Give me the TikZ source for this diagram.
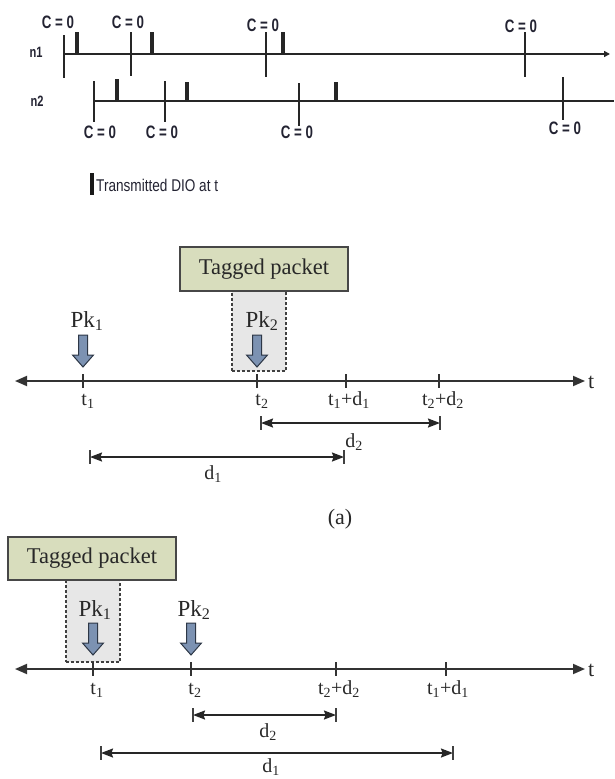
\documentclass[tikz,border=0pt]{standalone}
\usepackage{fontspec}
\usepackage{graphicx}
\setmainfont{Liberation Serif}
\setsansfont{Liberation Sans}
\usetikzlibrary{arrows.meta}
\definecolor{tagfill}{RGB}{216,221,189}
\definecolor{dashfill}{RGB}{231,231,231}
\definecolor{blkfill}{RGB}{124,146,178}
\definecolor{blkdraw}{RGB}{45,55,70}
\definecolor{txtc}{RGB}{40,40,40}
\definecolor{toptxt}{RGB}{35,35,50}
\newcommand{\cnd}[1]{\scalebox{0.74}[1]{#1}}
\newcommand{\sbt}[1]{\textsubscript{#1}}
\newcommand{\czero}{\cnd{C = 0}}
\begin{document}
\begin{tikzpicture}[x=1pt,y=-1pt,
  tl/.style={line width=1.5pt, draw=black!85},
  dio/.style={line width=3.2pt, draw=black!85},
  clab/.style={font=\sffamily\bfseries\fontsize{18}{20}\selectfont, text=toptxt, inner sep=0pt},
  nlab/.style={font=\sffamily\bfseries\fontsize{15}{16}\selectfont, text=toptxt, inner sep=0pt},
  leg/.style={font=\sffamily\fontsize{17}{18}\selectfont, text=toptxt, inner sep=0pt},
  tagbox/.style={draw=black!72, line width=2pt, fill=tagfill, minimum width=168pt, minimum height=44pt, inner sep=0pt, text=txtc, font=\fontsize{22.5}{24}\selectfont},
  dbox/.style={draw=black!75, line width=1.2pt, dash pattern=on 3pt off 2pt, fill=dashfill, minimum width=54pt, inner sep=0pt},
  blk/.style={fill=blkfill, draw=blkdraw, line width=1pt, line join=miter},
  pk/.style={font=\fontsize{23}{25}\selectfont, text=txtc, inner sep=0pt, anchor=base},
  lbl/.style={font=\fontsize{20}{22}\selectfont, text=txtc, inner sep=0pt, anchor=base},
  axis/.style={line width=1.8pt, draw=black!80, {Triangle[length=12pt,width=10pt]}-{Triangle[length=12pt,width=10pt]}},
  tick/.style={line width=1.5pt, draw=black!80},
  dim/.style={line width=1.6pt, draw=black!85, {Stealth[length=12pt,width=9pt,inset=1.5pt]}-{Stealth[length=12pt,width=9pt,inset=1.5pt]}},
  dbar/.style={line width=1.3pt, draw=black!75}
]
\useasboundingbox (0,0) rectangle (614,779);

% ---------------- top timelines ----------------
\node[nlab] (n1) at (36,52) {\cnd{n1}};
\node[nlab] (n2) at (37,101) {\cnd{n2}};
\coordinate (n1s) at (64,54);
\coordinate (n1e) at (610,54);
\draw[tl,-{Triangle[length=6pt,width=6pt]}] (n1s) -- (n1e);
\coordinate (n2s) at (94,101);
\coordinate (n2e) at (614,101);
\draw[tl] (n2s) -- (n2e);

\foreach \x/\a/\b in {64/35/78,131/32/76,266/32/77,525/32/77}
  \draw[tl] (\x,\a) -- (\x,\b);
\foreach \x in {77,152,283}
  \draw[dio] (\x,32) -- (\x,54);
\node[clab] (c11) at (58,22) {\czero};
\node[clab] (c12) at (128,22) {\czero};
\node[clab] (c13) at (263,25) {\czero};
\node[clab] (c14) at (521,26) {\czero};

\foreach \x/\a/\b in {94/81/122,165/81/122,299/83/126,563/77/120}
  \draw[tl] (\x,\a) -- (\x,\b);
\foreach \x/\a in {117/79,187/82,336/82}
  \draw[dio] (\x,\a) -- (\x,101);
\node[clab] (c21) at (100,132) {\czero};
\node[clab] (c22) at (162,132) {\czero};
\node[clab] (c23) at (297,132) {\czero};
\node[clab] (c24) at (565,128) {\czero};

% legend
\draw[line width=3.6pt, draw=black!90] (92,173) -- (92,195);
\node[leg, anchor=west] (legt) at (96,185) {\scalebox{0.8}[1]{Transmitted DIO at t}};

% ---------------- diagram (a) ----------------
\node[dbox, minimum height=80pt] (db1) at (259,331) {};
\node[tagbox] (tag1) at (264,269) {Tagged packet};
\draw[blk,shift={(83,335)}] (-4.5,0) -- (4.5,0) -- (4.5,20) -- (10.5,20) -- (0,32) -- (-10.5,20) -- (-4.5,20) -- cycle;
\draw[blk,shift={(257,335)}] (-4.5,0) -- (4.5,0) -- (4.5,20) -- (10.5,20) -- (0,32) -- (-10.5,20) -- (-4.5,20) -- cycle;
\node[pk] (pk1a) at (87,327) {Pk\sbt{1}};
\node[pk] (pk2a) at (262,327) {Pk\sbt{2}};

\coordinate (ala) at (15,381);
\coordinate (ara) at (585,381);
\draw[axis] (ala) -- (ara);
\node[lbl, anchor=base west, font=\fontsize{22}{24}\selectfont] (ta) at (588,388) {t};
\foreach \x in {83,257,346,439}
  \draw[tick] (\x,374) -- (\x,388);
\node[lbl] (t1a) at (88,405) {t\sbt{1}};
\node[lbl] (t2a) at (262,405) {t\sbt{2}};
\node[lbl] (t1d1a) at (349,405) {t\sbt{1}+d\sbt{1}};
\node[lbl] (t2d2a) at (443,405) {t\sbt{2}+d\sbt{2}};

\coordinate (d2sa) at (261,423);
\coordinate (d2ea) at (440,423);
\draw[dim] (d2sa) -- (d2ea);
\draw[dbar] (261,416) -- (261,430);
\draw[dbar] (440,416) -- (440,430);
\node[lbl] (d2la) at (354,447) {d\sbt{2}};
\coordinate (d1sa) at (90,457);
\coordinate (d1ea) at (344,457);
\draw[dim] (d1sa) -- (d1ea);
\draw[dbar] (90,450) -- (90,464);
\draw[dbar] (344,450) -- (344,464);
\node[lbl] (d1la) at (213,479) {d\sbt{1}};

\node[font=\fontsize{22}{24}\selectfont, text=txtc, inner sep=0pt] (capa) at (340,519) {(a)};

% ---------------- diagram (b) ----------------
\node[dbox, minimum height=82pt] (db2) at (93,621) {};
\node[tagbox, minimum height=43pt] (tag2) at (92,558.5) {Tagged packet};
\draw[blk,shift={(93,623)}] (-4.5,0) -- (4.5,0) -- (4.5,20) -- (10.5,20) -- (0,32) -- (-10.5,20) -- (-4.5,20) -- cycle;
\draw[blk,shift={(191,623)}] (-4.5,0) -- (4.5,0) -- (4.5,20) -- (10.5,20) -- (0,32) -- (-10.5,20) -- (-4.5,20) -- cycle;
\node[pk] (pk1b) at (95,616) {Pk\sbt{1}};
\node[pk] (pk2b) at (194,616) {Pk\sbt{2}};

\coordinate (alb) at (15,669);
\coordinate (arb) at (585,669);
\draw[axis] (alb) -- (arb);
\node[lbl, anchor=base west, font=\fontsize{22}{24}\selectfont] (tb) at (588,676) {t};
\foreach \x in {93,191,336,446}
  \draw[tick] (\x,662) -- (\x,676);
\node[lbl] (t1b) at (97,694) {t\sbt{1}};
\node[lbl] (t2b) at (195,694) {t\sbt{2}};
\node[lbl] (t2d2b) at (339,694) {t\sbt{2}+d\sbt{2}};
\node[lbl] (t1d1b) at (448,694) {t\sbt{1}+d\sbt{1}};

\coordinate (d2sb) at (193,715);
\coordinate (d2eb) at (336,715);
\draw[dim] (d2sb) -- (d2eb);
\draw[dbar] (193,708) -- (193,722);
\draw[dbar] (336,708) -- (336,722);
\node[lbl] (d2lb) at (268,737) {d\sbt{2}};
\coordinate (d1sb) at (101,753);
\coordinate (d1eb) at (453,753);
\draw[dim] (d1sb) -- (d1eb);
\draw[dbar] (101,746) -- (101,760);
\draw[dbar] (453,746) -- (453,760);
\node[lbl] (d1lb) at (271,772) {d\sbt{1}};
\end{tikzpicture}
\end{document}
